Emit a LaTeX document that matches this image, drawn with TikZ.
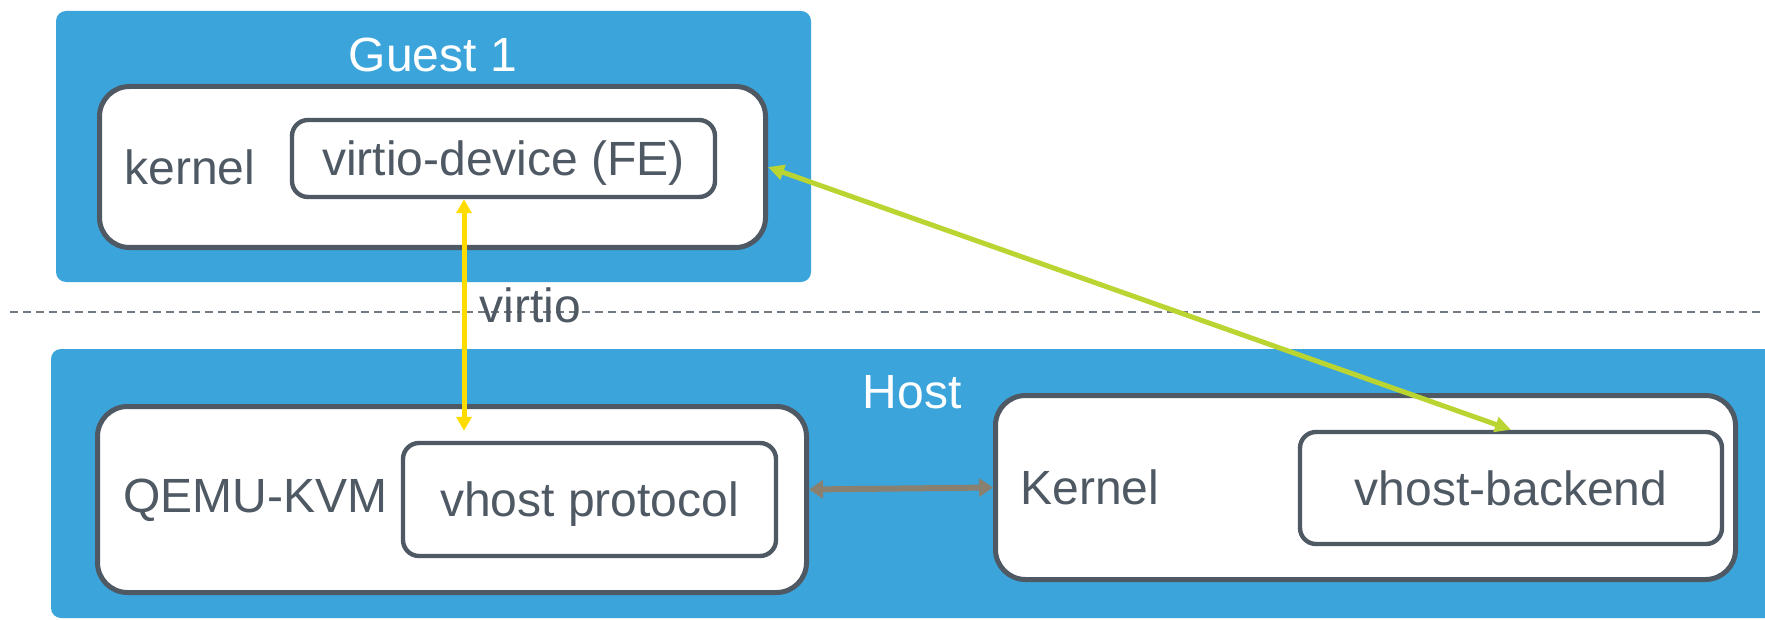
\documentclass[tikz,border=0pt]{standalone}
\usepackage{fontspec}
\setmainfont{Liberation Sans}
\usepackage{tikz}
\usetikzlibrary{positioning,arrows.meta,calc}

\definecolor{vmblue}{HTML}{3AA4DB}
\definecolor{slate}{HTML}{4F5964}
\definecolor{virtioyellow}{HTML}{FFDC00}
\definecolor{vhostgreen}{HTML}{BAD532}
\definecolor{taupe}{HTML}{8A8070}

\begin{document}
\begin{tikzpicture}[
        x=0.5pt, y=-0.5pt,
        font=\fontsize{24}{28}\selectfont,
        area/.style={fill=vmblue, rounded corners=5pt, inner sep=0pt},
        outerbox/.style={draw=slate, line width=2.5pt, fill=white, rounded corners=15pt, inner sep=0pt},
        innerbox/.style={draw=slate, line width=2.2pt, fill=white, rounded corners=8pt, text=slate, inner sep=0pt,
            text height=17.2pt, text depth=0pt},
        title/.style={text=white, inner sep=0pt},
        lab/.style={text=slate, inner sep=0pt},
        sep/.style={draw=slate!80, line width=0.8pt, dash pattern=on 4pt off 2.5pt}
    ]
        \useasboundingbox (0,0) rectangle (1765,620);

        % Guest side
        \node[area, minimum width=377.5pt, minimum height=135.5pt] (guest) at (433.5,146.5) {};
        \node[title] (lguest) at (433,54.5) {Guest 1};
        \node[outerbox, minimum width=333pt, minimum height=80.5pt] (gkernel) at (432.5,167) {};
        \node[lab, anchor=west] (lgkernel) at (124,167.5) {kernel};
        \node[innerbox, minimum width=211.5pt, minimum height=38.5pt] (vdev) at (503.5,158.5) {virtio-device (FE)};

        % Host side
        \node[area, minimum width=862pt, minimum height=134.5pt] (host) at (913,483.5) {};
        \node[title] (lhost) at (912,392) {Host};
        \node[outerbox, minimum width=354.5pt, minimum height=93pt] (qemu) at (452,499.5) {};
        \node[lab, anchor=west] (lqemu) at (123,500.5) {QEMU-KVM};
        \node[innerbox, minimum width=186.5pt, minimum height=56.5pt] (vproto) at (589.5,499.5) {vhost protocol};
        \node[outerbox, minimum width=370pt, minimum height=92pt] (hkernel) at (1365.5,487.5) {};
        \node[lab, anchor=west] (lhkernel) at (1020,487.5) {Kernel};
        \node[innerbox, minimum width=211pt, minimum height=56pt] (vback) at (1511,488) {vhost-backend};

        % Guest/host boundary
        \coordinate (sepL) at (10,312);
        \coordinate (sepR) at (1765,312);
        \draw[sep] (sepL) -- (sepR);

        % Links
        \draw[draw=virtioyellow, line width=2.5pt, {Triangle[length=7pt,width=7.5pt]}-{Triangle[length=7pt,width=7.5pt]}, shorten >=5pt]
            ([xshift=-19.75pt]vdev.south) -- ([xshift=-19.75pt]vdev.south |- vproto.north);
        \node[lab, anchor=base west] (lvirtio) at (479,322) {virtio};
        \draw[draw=vhostgreen, line width=2.5pt, {Triangle[length=8pt,width=7.5pt]}-{Triangle[length=8pt,width=7.5pt]}]
            (gkernel.east) -- (vback.north);
        \draw[draw=taupe, line width=3pt, {Triangle[length=7pt,width=9pt]}-{Triangle[length=7pt,width=9pt]}]
            ([yshift=5pt]qemu.east) -- (hkernel.west);
    \end{tikzpicture}
\end{document}
